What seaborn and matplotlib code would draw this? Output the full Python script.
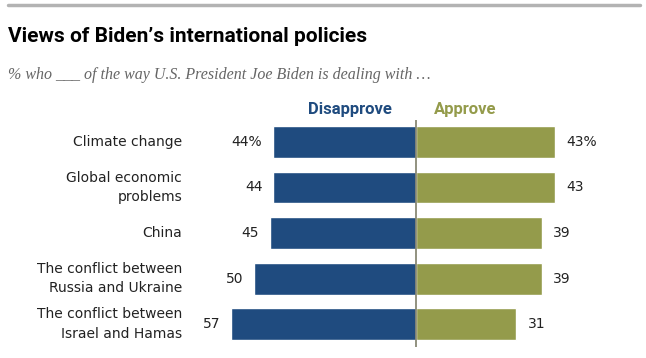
import pandas as pd
import matplotlib.pyplot as plt
import seaborn as sns
from matplotlib.lines import Line2D

# --- dados ---
categorias = ['Climate change', 'Global economic\nproblems', 'China',
              'The conflict between\nRussia and Ukraine', 'The conflict between\nIsrael and Hamas']
desaprova = [44, 44, 45, 50, 57]
aprova = [43, 43, 39, 39, 31]
rotulos_desaprova = ['44%', '44', '45', '50', '57']
rotulos_aprova = ['43%', '43', '39', '39', '31']

azul = '#1f4b7f'
oliva = '#949b4b'

df = pd.DataFrame({'cat': categorias, 'desaprova': desaprova, 'aprova': aprova})
df['desaprova_neg'] = -df['desaprova']

sns.set_style('white')
plt.rcParams['font.family'] = ['DejaVu Sans']

fig = plt.figure(figsize=(6.46, 3.58), dpi=100)
W, H = 646, 358
# eixo: centro em x=416 px, 3.24 px por ponto percentual
esq, dir_ = -60, 50
escala = 3.24
x0 = 416 + esq * escala
x1 = 416 + dir_ * escala
y_top, y_bot = 120, 347
ax = fig.add_axes([x0 / W, 1 - y_bot / H, (x1 - x0) / W, (y_bot - y_top) / H])

sns.barplot(data=df, x='desaprova_neg', y='cat', color=azul, width=0.7, orient='h',
            saturation=1, ax=ax)
sns.barplot(data=df, x='aprova', y='cat', color=oliva, width=0.7, orient='h',
            saturation=1, ax=ax)

ax.set_xlim(esq, dir_)
ax.set_ylim(4.5, -0.48)
ax.axvline(0, color='#7f7f6a', lw=1.2)
ax.set_axis_off()

for i in range(len(categorias)):
    ax.text(-desaprova[i] - 3.4, i, rotulos_desaprova[i], ha='right', va='center',
            fontsize=10, color='#222222')
    ax.text(aprova[i] + 3.4, i, rotulos_aprova[i], ha='left', va='center',
            fontsize=10, color='#222222')
    ax.text(-72.2, i, categorias[i], ha='right', va='center', fontsize=10,
            color='#222222', linespacing=1.5, clip_on=False)

# cabeçalhos
ax.text((350 - 416) / escala, -0.7, 'Disapprove', ha='center', va='center',
        fontsize=12, fontweight='bold', color=azul, clip_on=False,
        family=['Roboto', 'DejaVu Sans'])
ax.text((465 - 416) / escala, -0.7, 'Approve', ha='center', va='center',
        fontsize=12, fontweight='bold', color=oliva, clip_on=False,
        family=['Roboto', 'DejaVu Sans'])

# título e subtítulo
fig.text(8 / W, 1 - 37 / H, "Views of Biden\u2019s international policies", ha='left', va='center',
         fontsize=15, fontweight='bold', color='black',
         family=['Roboto', 'DejaVu Sans'])
fig.text(8 / W, 1 - 75 / H, '% who ___ of the way U.S. President Joe Biden is dealing with \u2026',
         ha='left', va='center', fontsize=11.5, style='italic', color='#666666',
         family=['Liberation Serif', 'DejaVu Serif'])

fig.add_artist(Line2D([8 / W, 640 / W], [1 - 5 / H, 1 - 5 / H], color='#b3b3b3', lw=2.5,
                      transform=fig.transFigure))

plt.savefig('out.png', dpi=100)
